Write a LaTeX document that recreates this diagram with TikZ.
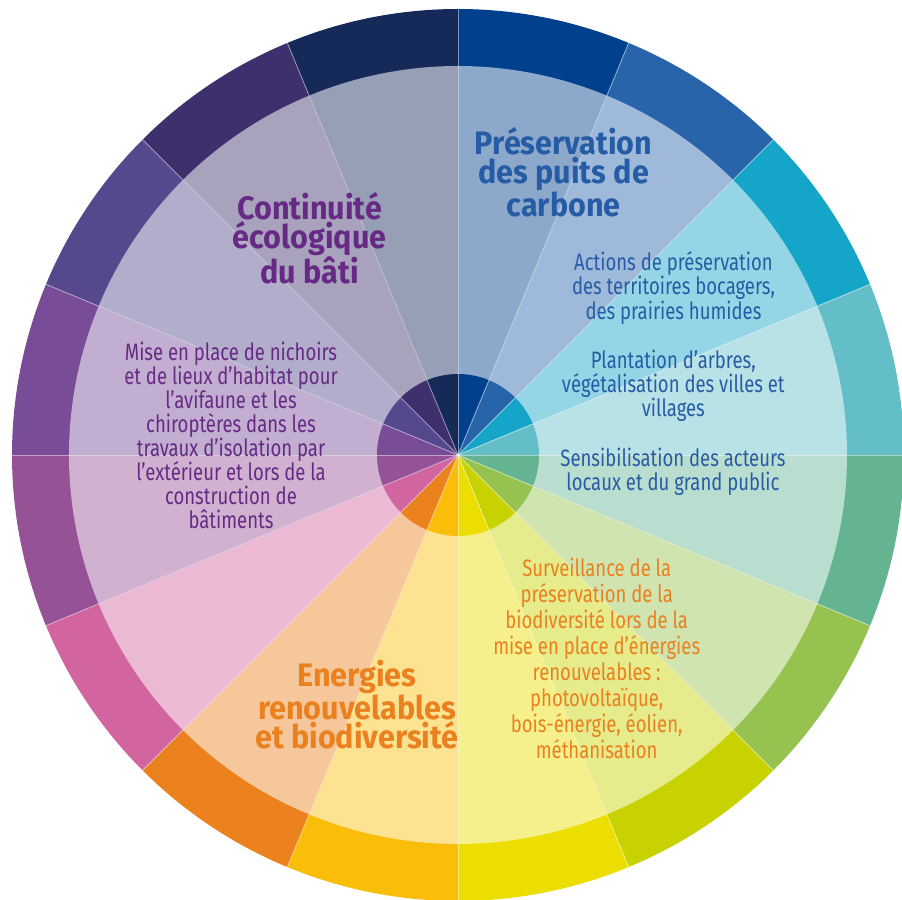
\documentclass[tikz,border=0pt]{standalone}
\usepackage{fontspec}
\setmainfont{Fira Sans}
\newfontfamily\fontcorps[FakeStretch=0.78]{Fira Sans}
\newfontfamily\fonttitre[FakeStretch=0.94]{Fira Sans}

\definecolor{c1}{RGB}{0,64,140}
\definecolor{c2}{RGB}{40,100,170}
\definecolor{c3}{RGB}{20,165,200}
\definecolor{c4}{RGB}{100,190,200}
\definecolor{c5}{RGB}{100,180,145}
\definecolor{c6}{RGB}{150,195,80}
\definecolor{c7}{RGB}{200,210,0}
\definecolor{c8}{RGB}{235,222,0}
\definecolor{c9}{RGB}{250,190,10}
\definecolor{c10}{RGB}{235,130,30}
\definecolor{c11}{RGB}{210,100,160}
\definecolor{c12}{RGB}{150,82,150}
\definecolor{c13}{RGB}{120,76,150}
\definecolor{c14}{RGB}{85,72,140}
\definecolor{c15}{RGB}{62,48,108}
\definecolor{c16}{RGB}{22,42,90}
\definecolor{txtbleu}{RGB}{38,92,165}
\definecolor{txtviolet}{RGB}{102,42,132}
\definecolor{txtorange}{RGB}{234,128,30}

\tikzset{
	titre/.style={align=center, inner sep=0pt, font=\fonttitre\bfseries\fontsize{18.5}{16.3}\selectfont},
	texte/.style={align=center, inner sep=0pt, font=\fontcorps\fontsize{13.5}{13.7}\selectfont},
	rayon/.style={white, opacity=0.45, line width=0.5pt}
}

\begin{document}
\begin{tikzpicture}[x=0.02cm, y=0.02cm]
			\def\R{446};
			\def\r{389};
			\def\rc{81};
			
			\useasboundingbox (-458,-444) rectangle (444,455);
			
			% secteurs : anneau, zone claire, centre
			\foreach \i in {1,...,16} {
				\pgfmathsetmacro\a{112.5-22.5*\i}
				\fill[c\i] (0,0) -- (\a:\R) arc [start angle=\a, delta angle=-22.5, radius=\R] -- cycle;
				\fill[c\i!45!white] (0,0) -- (\a:\r) arc [start angle=\a, delta angle=-22.5, radius=\r] -- cycle;
				\fill[c\i] (0,0) -- (\a:\rc) arc [start angle=\a, delta angle=-22.5, radius=\rc] -- cycle;
			}
			\foreach \i in {0,...,15}
				\draw[rayon] (0,0) -- (22.5*\i:\R);
			
			\node[titre, txtbleu] (carbone) at (105.7,282.5) {Préservation\\des puits de\\carbone};
			\node[texte, txtbleu] (bocage) at (215.5,167) {Actions de préservation\\des territoires bocagers,\\des prairies humides};
			\node[texte, txtbleu] (plantation) at (215.3,69) {Plantation d’arbres,\\végétalisation des villes et\\villages};
			\node[texte, txtbleu] (sensib) at (215,-16.5) {Sensibilisation des acteurs\\locaux et du grand public};
			
			\node[titre, txtviolet] (bati) at (-148.3,216.5) {Continuité\\écologique\\du bâti};
			\node[texte, txtviolet] (nichoirs) at (-227,19.5) {Mise en place de nichoirs\\et de lieux d’habitat pour\\l’avifaune et les\\chiroptères dans les\\travaux d’isolation par\\l’extérieur et lors de la\\construction de\\bâtiments};
			
			\node[titre, txtorange] (energies) at (-101,-249.5) {Energies\\renouvelables\\et biodiversité};
			\node[texte, txtorange, font=\fontcorps\fontsize{13.5}{14.8}\selectfont] (surveillance) at (138.7,-203) {Surveillance de la\\préservation de la\\biodiversité lors de la\\mise en place d’énergies\\renouvelables~:\\photovoltaïque,\\bois-énergie, éolien,\\méthanisation};
		\end{tikzpicture}
\end{document}
